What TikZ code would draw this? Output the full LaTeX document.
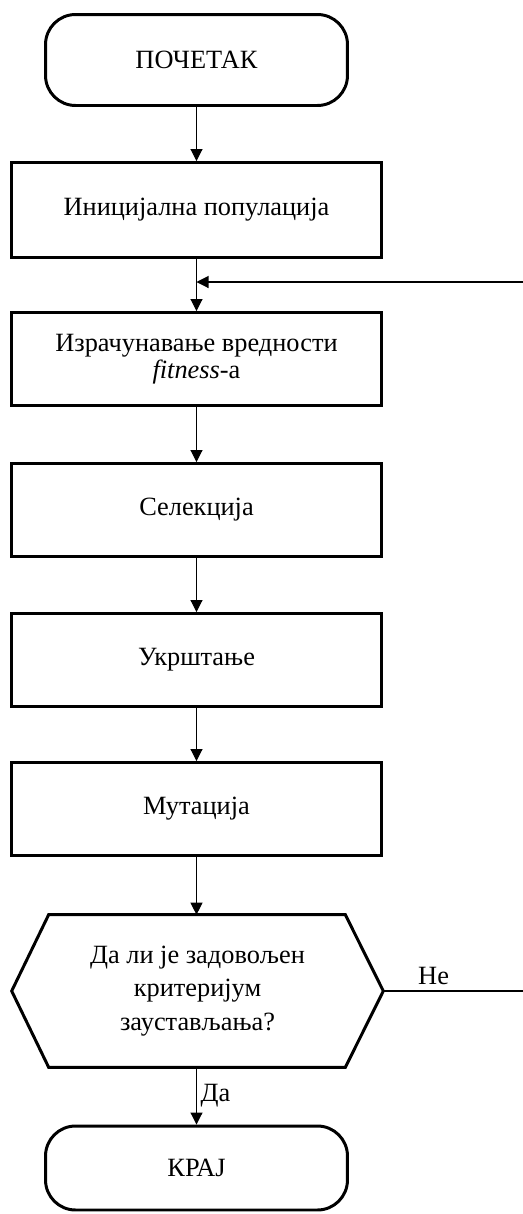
\documentclass[tikz,border=0pt]{standalone}
\usepackage{fontspec}
\setmainfont{Liberation Serif}
\usetikzlibrary{arrows.meta,positioning}

\tikzset{
  terminal/.style={draw, line width=1.7pt, rounded corners=0.6cm, minimum width=6.04cm, align=center},
  process/.style={draw, line width=1.7pt, minimum width=7.42cm, minimum height=1.86cm, align=center},
  decision/.style={minimum width=7.42cm, minimum height=3.04cm, align=center},
  flow/.style={line width=0.6pt, -{Triangle[length=0.24cm, width=0.24cm]}},
  plain/.style={line width=0.6pt}
}

\begin{document}
\begin{tikzpicture}[x=0.02cm, y=-0.02cm, font=\fontsize{15}{17}\selectfont]
  \useasboundingbox (0,0) rectangle (523,1214);

  \node[terminal, minimum height=1.82cm] (start) at (196.5,60) {ПОЧЕТАК};
  \node[process, minimum height=1.9cm] (init) at (196.5,210) {Иницијална популација};
  \node[process, font=\fontsize{15}{15.5}\selectfont] (fit) at (196.5,359)
    {Израчунавање вредности\\\textit{fitness}-а};
  \node[process] (sel) at (196.5,510) {Селекција};
  \node[process] (cross) at (196.5,660) {Укрштање};
  \node[process] (mut) at (196.5,809) {Мутација};
  \node[decision, font=\fontsize{15}{19}\selectfont] (check) at (197.5,991)
    {Да ли је задовољен\\критеријум\\заустављања?};
  \node[terminal, minimum height=1.68cm] (stop) at (196.5,1168) {КРАЈ};

  % hexagon around the decision
  \draw[line width=1.7pt, line join=miter]
    (check.west) -- ([xshift=0.74cm]check.north west) -- ([xshift=-0.76cm]check.north east)
    -- (check.east) -- ([xshift=-0.76cm]check.south east) -- ([xshift=0.74cm]check.south west) -- cycle;

  \coordinate (join) at (196.5,282);
  \coordinate (backend) at (523,282);
  \coordinate (noend) at (523,991);

  \draw[flow] (start) -- (init);
  \draw[flow] (init) -- (fit);
  \draw[flow] (fit) -- (sel);
  \draw[flow] (sel) -- (cross);
  \draw[flow] (cross) -- (mut);
  \draw[flow] (mut.south) -- (mut.south |- check.north);
  \draw[flow] (check.south -| stop.north) -- node[right, inner sep=2pt] {Да} (stop);
  \draw[plain] (check.east) -- node[above, pos=0.36] {Не} (noend);
  \draw[flow] (backend) -- (join);
\end{tikzpicture}
\end{document}
